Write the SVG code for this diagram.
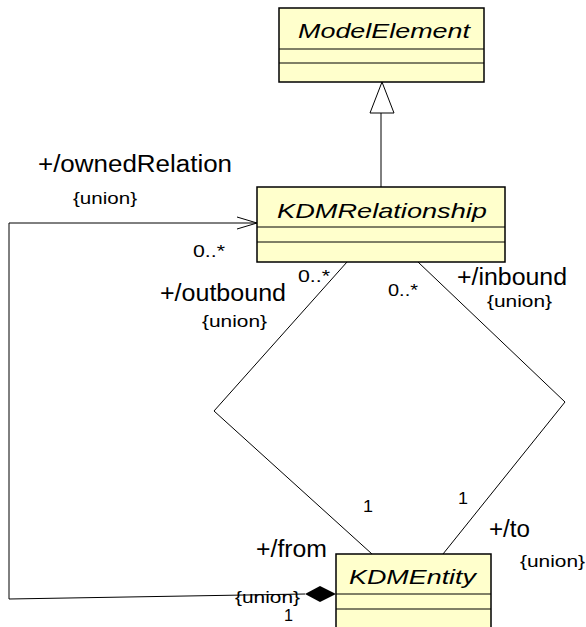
<svg xmlns="http://www.w3.org/2000/svg" width="586" height="627" viewBox="0 0 586 627">
<style>
.box{fill:#FFFFCC;stroke:#000;stroke-width:1.5}
.div{stroke:#000;stroke-width:1}
.cls{font-family:"Liberation Sans",Arial,sans-serif;font-style:italic;font-size:21px;fill:#000}
.lbl{font-family:"Liberation Sans",Arial,sans-serif;font-size:23px;fill:#000}
.sm{font-family:"Liberation Sans",Arial,sans-serif;font-size:17px;fill:#000}
.ln{fill:none;stroke:#000;stroke-width:1}
</style>
<rect width="586" height="627" fill="#fff"/>
<g id="connectors">
<line class="ln" x1="381" y1="113" x2="381" y2="187"/>
<polygon points="382,82 370,113 394,113" fill="#fff" stroke="#000" stroke-width="1"/>
<polyline class="ln" points="347,262 214,411 372,554"/>
<polyline class="ln" points="418,262 565,402 443,554"/>
<polyline class="ln" points="305,594 9,599 9,223 257,223"/>
<polyline class="ln" points="237,217 257,223 237,229"/>
<polygon points="305,594 320,586 336,594 320,602" fill="#000"/>
</g>
<g id="ModelElement">
<rect class="box" x="279" y="8" width="205" height="74"/>
<line class="div" x1="279" y1="49" x2="484" y2="49"/>
<line class="div" x1="279" y1="63" x2="484" y2="63"/>
<text class="cls" x="298" y="38" textLength="172" lengthAdjust="spacingAndGlyphs">ModelElement</text>
</g>
<g id="KDMRelationship">
<rect class="box" x="257" y="187" width="248" height="75"/>
<line class="div" x1="257" y1="227" x2="505" y2="227"/>
<line class="div" x1="257" y1="242" x2="505" y2="242"/>
<text class="cls" x="277" y="218" textLength="210" lengthAdjust="spacingAndGlyphs">KDMRelationship</text>
</g>
<g id="KDMEntity">
<rect class="box" x="336" y="554" width="155" height="80"/>
<line class="div" x1="336" y1="594" x2="491" y2="594"/>
<line class="div" x1="336" y1="609" x2="491" y2="609"/>
<text class="cls" x="349" y="584" textLength="127" lengthAdjust="spacingAndGlyphs">KDMEntity</text>
</g>
<g id="labels">
<text class="lbl" x="38" y="172" textLength="194" lengthAdjust="spacingAndGlyphs">+/ownedRelation</text>
<text class="sm" x="73" y="204" textLength="64" lengthAdjust="spacingAndGlyphs">{union}</text>
<text class="sm" x="193" y="257" textLength="32" lengthAdjust="spacingAndGlyphs">0..*</text>
<text class="sm" x="298" y="282" textLength="32" lengthAdjust="spacingAndGlyphs">0..*</text>
<text class="sm" x="388" y="296" textLength="30" lengthAdjust="spacingAndGlyphs">0..*</text>
<text class="lbl" x="160" y="301" textLength="126" lengthAdjust="spacingAndGlyphs">+/outbound</text>
<text class="sm" x="202" y="327" textLength="65" lengthAdjust="spacingAndGlyphs">{union}</text>
<text class="lbl" x="457" y="285" textLength="110" lengthAdjust="spacingAndGlyphs">+/inbound</text>
<text class="sm" x="487" y="307" textLength="65" lengthAdjust="spacingAndGlyphs">{union}</text>
<text class="sm" x="363" y="512" textLength="10" lengthAdjust="spacingAndGlyphs">1</text>
<text class="sm" x="458" y="504" textLength="10" lengthAdjust="spacingAndGlyphs">1</text>
<text class="lbl" x="489" y="537" textLength="41" lengthAdjust="spacingAndGlyphs">+/to</text>
<text class="sm" x="520" y="567" textLength="65" lengthAdjust="spacingAndGlyphs">{union}</text>
<text class="lbl" x="256" y="557" textLength="71" lengthAdjust="spacingAndGlyphs">+/from</text>
<text class="sm" x="235" y="603" textLength="65" lengthAdjust="spacingAndGlyphs">{union}</text>
<text class="sm" x="284" y="621" textLength="9" lengthAdjust="spacingAndGlyphs">1</text>
</g>
</svg>
